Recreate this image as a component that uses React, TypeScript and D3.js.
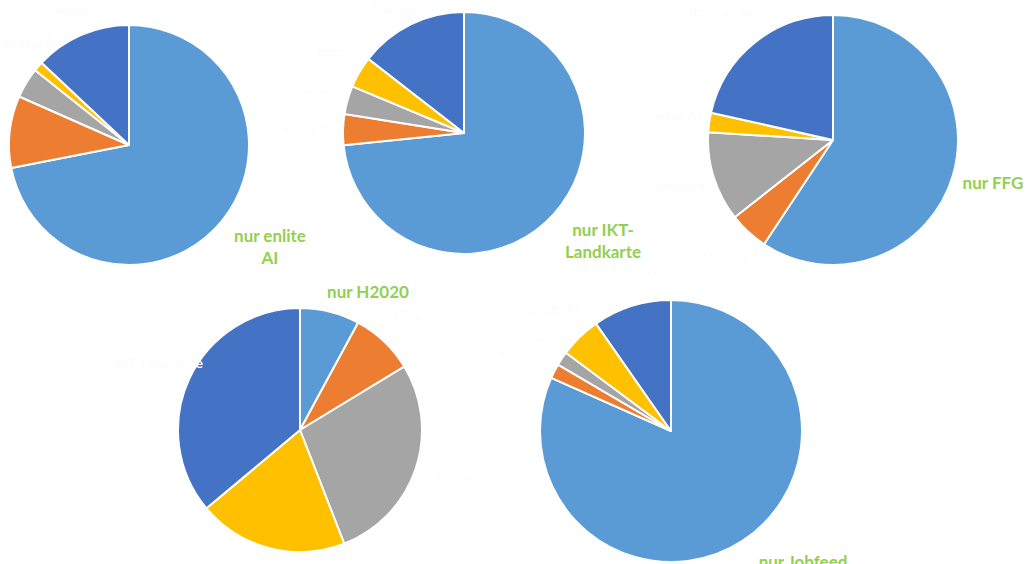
import React from "react";
import * as d3 from "d3";

// Categories per pie (first = the "nur X" slice), series values in percent
const pie1Labels = ["nur enlite AI", "FFG", "H2020", "IKT-Landkarte", "Jobfeed"];
const pie1Values = [72.0, 9.7, 4.1, 1.3, 13.0];

const pie2Labels = ["nur IKT-Landkarte", "enlite AI", "H2020", "FFG", "Jobfeed"];
const pie2Values = [73.4, 4.1, 3.8, 4.2, 14.5];

const pie3Labels = ["nur FFG", "H2020", "Jobfeed", "enlite AI", "IKT-Landkarte"];
const pie3Values = [59.3, 5.1, 11.6, 2.5, 21.5];

const pie4Labels = ["nur H2020", "FFG", "Jobfeed", "enlite AI", "IKT-Landkarte"];
const pie4Values = [7.9, 8.4, 27.8, 19.8, 36.1];

const pie5Labels = ["nur Jobfeed", "H2020", "FFG", "enlite AI", "IKT-Landkarte"];
const pie5Values = [81.6, 1.8, 1.75, 5.1, 9.7];

// Title lines for the highlighted slice
const pie1Title = ["nur enlite", "AI"];
const pie2Title = ["nur IKT-", "Landkarte"];
const pie3Title = ["nur FFG"];
const pie4Title = ["nur H2020"];
const pie5Title = ["nur Jobfeed"];

const COLORS = ["#5B9BD5", "#ED7D31", "#A5A5A5", "#FFC000", "#4472C4"];

// layout: center, radius, title position (offset from center)
const layouts = [
  { cx: 129, cy: 145, r: 120, tx: 141, ty: 104 },
  { cx: 464, cy: 133, r: 121, tx: 139, ty: 110 },
  { cx: 833, cy: 140, r: 125, tx: 160, ty: 45 },
  { cx: 300, cy: 430, r: 122, tx: 68, ty: -136 },
  { cx: 671, cy: 431, r: 131, tx: 132, ty: 133 },
];

const pies = [
  { labels: pie1Labels, values: pie1Values, title: pie1Title },
  { labels: pie2Labels, values: pie2Values, title: pie2Title },
  { labels: pie3Labels, values: pie3Values, title: pie3Title },
  { labels: pie4Labels, values: pie4Values, title: pie4Title },
  { labels: pie5Labels, values: pie5Values, title: pie5Title },
];

const FONT = "Lato, 'Open Sans', sans-serif";
const W = 1028;
const H = 564;

function Pie({ p, L }: { p: any; L: any }) {
  const gen = d3.pie<number>().sort(null).value((d) => d);
  const arcs = gen(p.values);
  const arc = d3.arc<d3.PieArcDatum<number>>().innerRadius(0).outerRadius(L.r);
  const labelArc = d3
    .arc<d3.PieArcDatum<number>>()
    .innerRadius(L.r * 1.28)
    .outerRadius(L.r * 1.28);
  return (
    <g transform={`translate(${L.cx},${L.cy})`}>
      {arcs.map((a, i) => (
        <path
          key={i}
          d={arc(a) || ""}
          fill={COLORS[i]}
          stroke="#ffffff"
          strokeWidth={2}
          strokeLinejoin="round"
        />
      ))}
      {arcs.map((a, i) => {
        if (i === 0) return null;
        const [x, y] = labelArc.centroid(a);
        const ay = Math.max(10, L.cy + y);
        return (
          <text
            key={"l" + i}
            x={x}
            y={ay - L.cy}
            textAnchor="middle"
            dominantBaseline="middle"
            fontFamily={FONT}
            fontWeight="bold"
            fontSize={14}
            fill="#fdfdfd"
          >
            {p.labels[i]}
          </text>
        );
      })}
      <text
        x={L.tx}
        y={L.ty - ((p.title.length - 1) * 22) / 2}
        textAnchor="middle"
        dominantBaseline="middle"
        fontFamily={FONT}
        fontWeight="bold"
        fontSize={17}
        fill="#92D050"
      >
        {p.title.map((t: string, k: number) => (
          <tspan key={k} x={L.tx} dy={k === 0 ? 0 : 22}>
            {t}
          </tspan>
        ))}
      </text>
    </g>
  );
}

export default function App() {
  return (
    <svg
      width={W}
      height={H}
      style={{ position: "absolute", left: 0, top: 0, background: "#ffffff" }}
    >
      <rect width={W} height={H} fill="#ffffff" />
      {pies.map((p, i) => (
        <Pie key={i} p={p} L={layouts[i]} />
      ))}
    </svg>
  );
}
